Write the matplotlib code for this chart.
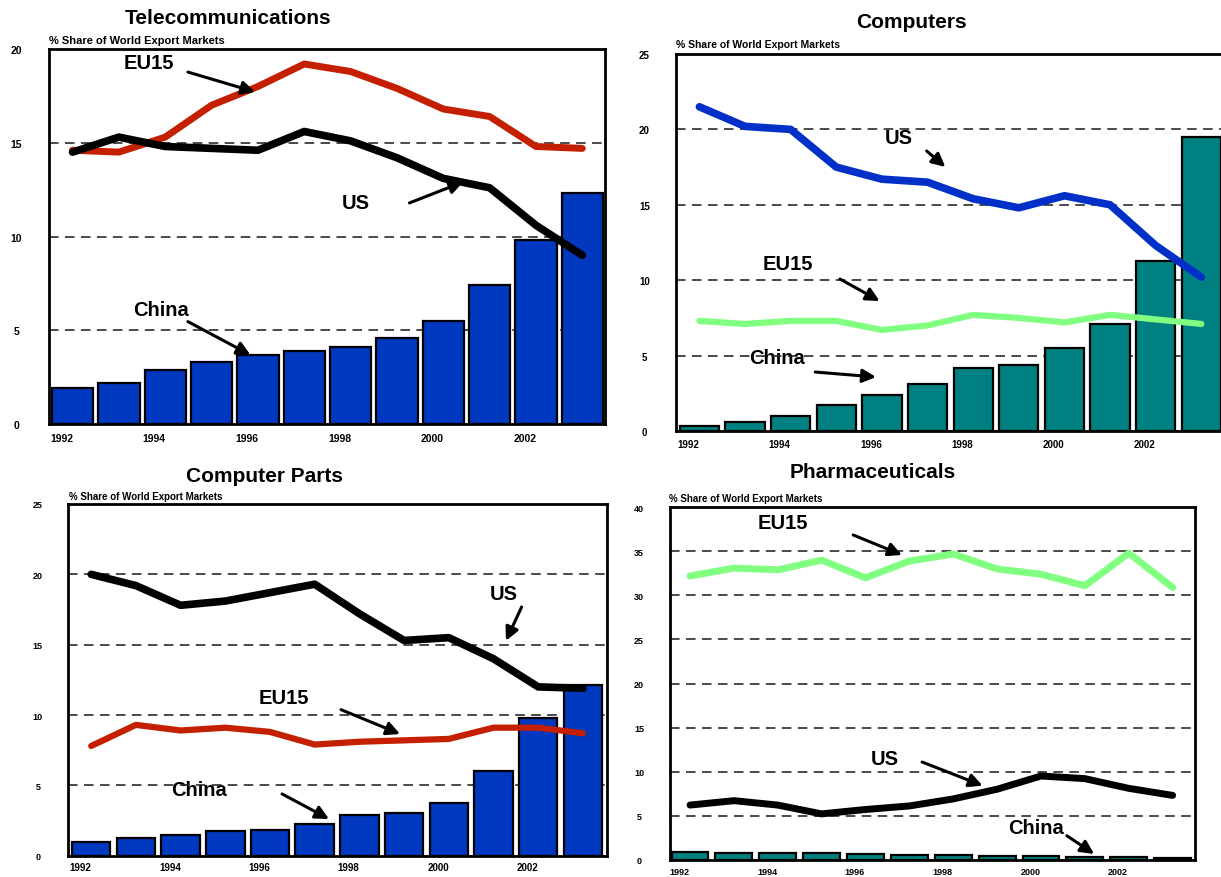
import matplotlib
matplotlib.use("Agg")
import matplotlib.pyplot as plt

plt.rcParams['font.family'] = ['Liberation Sans', 'DejaVu Sans']
plt.rcParams['font.weight'] = 'bold'

W, H = 1221, 878

years = list(range(1992, 2004))
year_labels = [str(y) for y in years[0:11:2]]

# Telecommunications
tel_china = [1.9, 2.2, 2.9, 3.3, 3.7, 3.9, 4.1, 4.6, 5.5, 7.4, 9.8, 12.3]
tel_eu15 = [14.6, 14.5, 15.3, 17.0, 18.0, 19.2, 18.8, 17.9, 16.8, 16.4, 14.8, 14.7]
tel_us = [14.5, 15.3, 14.8, 14.7, 14.6, 15.6, 15.1, 14.2, 13.1, 12.6, 10.6, 9.0]

# Computers
comp_china = [0.35, 0.6, 1.0, 1.7, 2.4, 3.1, 4.2, 4.4, 5.5, 7.1, 11.3, 19.5]
comp_us = [21.5, 20.2, 20.0, 17.5, 16.7, 16.5, 15.4, 14.8, 15.6, 15.0, 12.3, 10.2]
comp_eu15 = [7.3, 7.1, 7.3, 7.3, 6.7, 7.0, 7.7, 7.5, 7.2, 7.7, 7.4, 7.1]

# Computer parts
parts_china = [0.95, 1.25, 1.5, 1.75, 1.85, 2.25, 2.9, 3.0, 3.75, 6.0, 9.8, 12.1]
parts_us = [20.0, 19.2, 17.8, 18.1, 18.7, 19.3, 17.2, 15.3, 15.5, 14.0, 12.0, 11.9]
parts_eu15 = [7.8, 9.3, 8.9, 9.1, 8.8, 7.9, 8.1, 8.2, 8.3, 9.1, 9.1, 8.7]

# Pharmaceuticals
pharma_china = [0.9, 0.8, 0.8, 0.8, 0.7, 0.5, 0.5, 0.4, 0.4, 0.3, 0.3, 0.2]
pharma_eu15 = [32.2, 33.1, 32.9, 34.0, 32.0, 33.9, 34.7, 33.0, 32.4, 31.1, 34.8, 30.9]
pharma_us = [6.2, 6.7, 6.2, 5.2, 5.7, 6.1, 6.9, 8.0, 9.5, 9.2, 8.1, 7.3]

BLUE_BAR = '#0038C0'
TEAL = '#008080'
RED = '#C42000'
BLACK = '#000000'
LINE_BLUE = '#0030C8'
LIGHT_GREEN = '#80FF80'

SUBTITLE = '% Share of World Export Markets'

panels = [
    dict(title='Telecommunications', title_xy=(228, 19), sub_xy=(49, 41), sub_size=8,
         box=(49, 50, 605, 425), xlim=(-0.508, 11.49), ymax=20, ystep=5,
         bars=tel_china, bar_color=BLUE_BAR, bar_width=0.89,
         lines=[(tel_eu15, RED, 5.0), (tel_us, BLACK, 5.5)],
         notes=[('EU15', (1.10, 19.28), (2.49, 18.77), (3.94, 17.71)),
                ('US', (5.81, 11.79), (7.27, 11.79), (8.43, 12.91)),
                ('China', (1.31, 6.13), (2.49, 5.46), (3.84, 3.68))],
         ytick_size=7.5, ytick_pad=23.5, xtick_size=7.5, xtick_pad=6.5),
    dict(title='Computers', title_xy=(911, 22), sub_xy=(676, 45), sub_size=7.5,
         box=(675.5, 55, 1226, 432), xlim=(-0.523, 11.54), ymax=25, ystep=5,
         bars=comp_china, bar_color=TEAL, bar_width=0.86,
         lines=[(comp_us, LINE_BLUE, 5.5), (comp_eu15, LIGHT_GREEN, 4.5)],
         notes=[('US', (4.06, 19.46), (4.98, 18.57), (5.39, 17.51)),
                ('EU15', (1.38, 11.11), (3.08, 10.08), (3.95, 8.62)),
                ('China', (1.08, 4.87), (2.54, 3.91), (3.87, 3.58))],
         ytick_size=7, ytick_pad=22.5, xtick_size=7, xtick_pad=6),
    dict(title='Computer Parts', title_xy=(265, 477), sub_xy=(69, 497), sub_size=7,
         box=(68.4, 505, 607, 856.7), xlim=(-0.51, 11.54), ymax=25, ystep=5,
         bars=parts_china, bar_color=BLUE_BAR, bar_width=0.86,
         lines=[(parts_us, BLACK, 5.5), (parts_eu15, RED, 4.5)],
         notes=[('US', (8.92, 18.67), (9.63, 17.68), (9.28, 15.28)),
                ('EU15', (3.75, 11.21), (5.59, 10.38), (6.91, 8.65)),
                ('China', (1.79, 4.71), (4.27, 4.39), (5.32, 2.61))],
         ytick_size=6.5, ytick_pad=22, xtick_size=7, xtick_pad=4.5),
    dict(title='Pharmaceuticals', title_xy=(873, 473), sub_xy=(669, 499), sub_size=7,
         box=(670, 508.3, 1195, 860.7), xlim=(-0.456, 11.51), ymax=40, ystep=5,
         bars=pharma_china, bar_color=TEAL, bar_width=0.84,
         lines=[(pharma_eu15, LIGHT_GREEN, 5.0), (pharma_us, BLACK, 5.0)],
         notes=[('EU15', (1.53, 38.22), (3.72, 36.86), (4.83, 34.59)),
                ('US', (4.13, 11.54), (5.29, 11.09), (6.67, 8.40)),
                ('China', (7.25, 3.60), (8.59, 2.72), (9.21, 0.65))],
         ytick_size=6.5, ytick_pad=22.3, xtick_size=6.5, xtick_pad=5.5),
]

fig = plt.figure(figsize=(W / 100, H / 100), dpi=100)
fig.patch.set_facecolor('white')

for p in panels:
    L, T, R, B = p['box']
    ax = fig.add_axes([L / W, 1 - B / H, (R - L) / W, (B - T) / H])
    idx = list(range(len(years)))

    ax.bar(idx, p['bars'], width=p['bar_width'], color=p['bar_color'],
           edgecolor='black', linewidth=1.6, zorder=1)
    for vals, col, lw in p['lines']:
        ax.plot(idx, vals, color=col, lw=lw, solid_capstyle='round',
                solid_joinstyle='round', zorder=3)

    for txt, txy, tail, head in p['notes']:
        ax.text(txy[0], txy[1], txt, ha='left', va='center', fontsize=14.5,
                fontweight='bold', color='black', zorder=0.3)
        ax.annotate('', xy=head, xytext=tail,
                    arrowprops=dict(arrowstyle='-|>', color='black', lw=2.2,
                                    mutation_scale=20, shrinkA=0, shrinkB=0),
                    zorder=5)

    ax.set_xlim(*p['xlim'])
    ax.set_ylim(0, p['ymax'])
    ax.set_yticks(list(range(0, p['ymax'] + 1, p['ystep'])))
    ax.set_xticks([i - 0.24 for i in range(0, 11, 2)])
    ax.set_xticklabels(year_labels)
    ax.tick_params(axis='both', length=0)
    ax.tick_params(axis='y', pad=p['ytick_pad'], labelsize=p['ytick_size'])
    ax.tick_params(axis='x', pad=p['xtick_pad'], labelsize=p['xtick_size'])
    for lbl in ax.get_yticklabels():
        lbl.set_horizontalalignment('center')
        lbl.set_fontweight('bold')
    for lbl in ax.get_xticklabels():
        lbl.set_fontweight('bold')

    ax.set_axisbelow(True)
    ax.yaxis.grid(True, linestyle=(0, (6, 4)), color='#222222', lw=1.15)
    ax.xaxis.grid(False)
    for s in ax.spines.values():
        s.set_linewidth(2.0)
        s.set_color('black')

    fig.text(p['title_xy'][0] / W, 1 - p['title_xy'][1] / H, p['title'],
             ha='center', va='center', fontsize=15, fontweight='bold')
    fig.text(p['sub_xy'][0] / W, 1 - p['sub_xy'][1] / H, SUBTITLE,
             ha='left', va='center', fontsize=p['sub_size'], fontweight='bold')

fig.savefig('out.png', dpi=100)
